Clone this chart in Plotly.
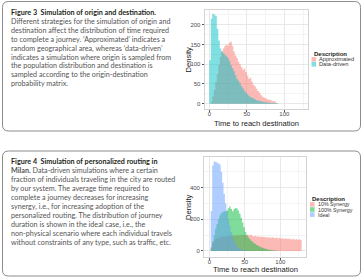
import numpy as np
import plotly.graph_objects as go

W, H = 362, 278
bin_width = 2

# ---- Figure 3 data (counts per 2-unit bin, starting at 0) ----
approximated = [0, 5, 18, 35, 55, 75, 98, 118, 132, 140, 146, 150, 147, 154, 157,
                146, 132, 122, 116, 106, 100, 93, 86, 89, 80, 71, 63, 66, 56, 48,
                44, 38, 32, 28, 22, 18, 16, 14, 12, 10, 10, 8, 6, 7, 3]
data_driven = [110, 215, 228, 226, 222, 190, 160, 140, 132, 128, 124, 120, 116, 108,
               98, 90, 82, 72, 63, 58, 52, 45, 39, 33, 28, 24, 20, 17, 15, 13, 11,
               9, 8, 7, 6, 5, 4, 4, 3, 3, 2, 2, 2, 1, 2, 1]

# ---- Figure 4 data ----
syn10 = [0, 25, 50, 65, 75, 80, 84, 86, 88, 90, 92, 90, 95, 93, 97, 94, 99, 96, 100,
         97, 101, 98, 102, 99, 103, 100, 104, 101, 98, 102, 95, 92, 96, 90, 94, 88,
         92, 86, 90, 85, 89, 84, 88, 82, 86, 83, 80, 85, 79, 83, 78, 82, 76, 80, 75,
         79, 74, 78, 72, 77, 71, 75, 70, 74, 69]
syn100 = [0, 20, 60, 100, 140, 170, 200, 225, 240, 245, 250, 250, 255, 270, 280,
          265, 250, 265, 272, 268, 255, 235, 210, 180, 150, 120, 100, 85, 75, 65,
          58, 50, 44, 38, 33, 28, 24, 20, 17, 14, 11, 9, 7, 5, 4, 3, 2, 1]
ideal = [0, 250, 540, 565, 562, 558, 552, 545, 500, 430, 360, 300, 250, 200, 160,
         120, 90, 65, 45, 30, 20, 12, 8, 5, 3, 2, 1]

x_ticks = [0, 50, 100]
top_y_ticks = [0, 50, 100, 150, 200]
bot_y_ticks = [0, 200, 400]

PINK = "rgba(248,118,109,0.5)"
TEAL = "rgba(0,191,196,0.5)"
GREEN = "rgba(0,186,56,0.5)"
BLUE = "rgba(97,156,255,0.5)"


def step_area(counts, color, name, xa, ya):
    edges = np.arange(len(counts) + 1) * bin_width
    y = list(counts) + [0]
    return go.Scatter(x=edges, y=y, mode="lines", line=dict(width=0, shape="hv"),
                      fill="tozeroy", fillcolor=color, name=name, xaxis=xa, yaxis=ya,
                      showlegend=False, hoverinfo="skip")


fig = go.Figure()
fig.add_trace(step_area(approximated, PINK, "Approximated", "x", "y"))
fig.add_trace(step_area(data_driven, TEAL, "Data-driven", "x", "y"))
fig.add_trace(step_area(syn10, PINK, "10% Synergy", "x2", "y2"))
fig.add_trace(step_area(syn100, GREEN, "100% Synergy", "x2", "y2"))
fig.add_trace(step_area(ideal, BLUE, "Ideal", "x2", "y2"))


def px(x):
    return x / W


def py(y):
    return 1 - y / H


tickfont = dict(family="Liberation Sans", size=6, color="#4D4D4D")
axis_common = dict(ticks="outside", ticklen=2, tickwidth=0.8, tickcolor="#555555",
                   tickfont=tickfont, showgrid=True, gridcolor="#E8E8E8", gridwidth=0.7,
                   showline=True, mirror=True, linecolor="#D3D3D3", linewidth=0.8,
                   zeroline=False, fixedrange=True)

fig.update_layout(
    width=W, height=H, margin=dict(l=0, r=0, t=0, b=0),
    paper_bgcolor="white", plot_bgcolor="white", showlegend=False,
    xaxis=dict(domain=[px(204.5), px(308)], range=[-6.4, 131.6], tickvals=x_ticks,
               anchor="y", ticklabelstandoff=-3,
               minor=dict(dtick=25, showgrid=True, gridcolor="#F4F4F4"),
               **axis_common),
    yaxis=dict(domain=[py(109), py(10)], range=[-13.4, 237.2], tickvals=top_y_ticks,
               anchor="x", minor=dict(dtick=25, showgrid=True, gridcolor="#F4F4F4"),
               **axis_common),
    xaxis2=dict(domain=[px(204), px(306)], range=[-7.5, 136.2], tickvals=x_ticks,
                anchor="y2", ticklabelstandoff=-3,
                minor=dict(dtick=25, showgrid=True, gridcolor="#F4F4F4"),
                **axis_common),
    yaxis2=dict(domain=[py(257), py(157)], range=[-37.9, 593], tickvals=bot_y_ticks,
                anchor="x2", minor=dict(dtick=100, showgrid=True, gridcolor="#F4F4F4"),
                **axis_common),
)


def rounded_box(x0, y0, x1, y1, r=6):
    rx, ry = r / W, r / H
    X0, X1 = px(x0), px(x1)
    Y0, Y1 = py(y0), py(y1)  # Y0 top (larger), Y1 bottom
    path = (f"M {X0+rx},{Y0} L {X1-rx},{Y0} Q {X1},{Y0} {X1},{Y0-ry} "
            f"L {X1},{Y1+ry} Q {X1},{Y1} {X1-rx},{Y1} L {X0+rx},{Y1} "
            f"Q {X0},{Y1} {X0},{Y1+ry} L {X0},{Y0-ry} Q {X0},{Y0} {X0+rx},{Y0} Z")
    return dict(type="path", xref="paper", yref="paper", path=path,
                line=dict(color="#8C8C8C", width=1), layer="below")


shapes = [rounded_box(2.5, 1.5, 360.5, 131), rounded_box(2.5, 151, 360.5, 276)]

annotations = []
cap_font = "Lato"
body_color = "#555555"
title_color = "#231F20"
cap_size = 7.2

top_lines = [
    "<b>Figure 3\u00a0\u00a0Simulation of origin and destination.</b>",
    "Different strategies for the simulation of origin and",
    "destination affect the distribution of time required",
    "to complete a journey. \u2018Approximated\u2019 indicates a",
    "random geographical area, whereas \u2018data-driven\u2019",
    "indicates a simulation where origin is sampled from",
    "the population distribution and destination is",
    "sampled according to the origin-destination",
    "probability matrix.",
]
bot_lines = [
    "<b>Figure 4\u00a0\u00a0Simulation of personalized routing in</b>",
    "<b>Milan.</b> Data-driven simulations where a certain",
    "fraction of individuals traveling in the city are routed",
    "by our system. The average time required to",
    "complete a journey decreases for increasing",
    "synergy, i.e., for increasing adoption of the",
    "personalized routing. The distribution of journey",
    "duration is shown in the ideal case, i.e., the",
    "non-physical scenario where each individual travels",
    "without constraints of any type, such as traffic, etc.",
]


def add_lines(lines, y_start, step):
    for i, t in enumerate(lines):
        annotations.append(dict(
            text=t, x=px(9), y=py(y_start + i * step), xref="paper", yref="paper",
            xanchor="left", yanchor="middle", showarrow=False,
            font=dict(family=cap_font, size=cap_size,
                      color=title_color if t.startswith("<b>Figure") else body_color)))


add_lines(top_lines, 12.3, 8.94)
add_lines(bot_lines, 161.7, 8.97)

axis_title_font = dict(family="Liberation Sans", size=7.6, color="#1A1A1A")
for cx, cy, dy in [(256, 123, 59.5), (255, 269, 207)]:
    annotations.append(dict(text="Time to reach destination", x=px(cx), y=py(cy),
                            xref="paper", yref="paper", showarrow=False,
                            xanchor="center", yanchor="middle", font=axis_title_font))
    annotations.append(dict(text="Density", x=px(188), y=py(dy), textangle=-90,
                            xref="paper", yref="paper", showarrow=False,
                            xanchor="center", yanchor="middle", font=axis_title_font))

leg_title_font = dict(family="Liberation Sans", size=6, color="#1A1A1A")


def add_legend(title_y, items, key_x, step, label_size):
    leg_font = dict(family="Liberation Sans", size=label_size, color="#333333")
    annotations.append(dict(text="<b>Description</b>", x=px(key_x), y=py(title_y),
                            xref="paper", yref="paper", showarrow=False,
                            xanchor="left", yanchor="middle", font=leg_title_font))
    for i, (label, color) in enumerate(items):
        cy = title_y + 5.4 + i * step
        shapes.append(dict(type="rect", xref="paper", yref="paper",
                           x0=px(key_x), x1=px(key_x + 4.6),
                           y0=py(cy + 2.3), y1=py(cy - 2.3),
                           fillcolor=color, line=dict(width=0)))
        annotations.append(dict(text=label, x=px(key_x + 5.5), y=py(cy),
                                xref="paper", yref="paper", showarrow=False,
                                xanchor="left", yanchor="middle", font=leg_font))


add_legend(54, [("Approximated", PINK), ("Data-driven", TEAL)], 311.5, 4.9, 5.7)
add_legend(199, [("10% Synergy", PINK), ("100% Synergy", GREEN), ("Ideal", BLUE)],
           310, 5.1, 5.3)

fig.update_layout(shapes=shapes, annotations=annotations)
fig.write_html("out.html")
